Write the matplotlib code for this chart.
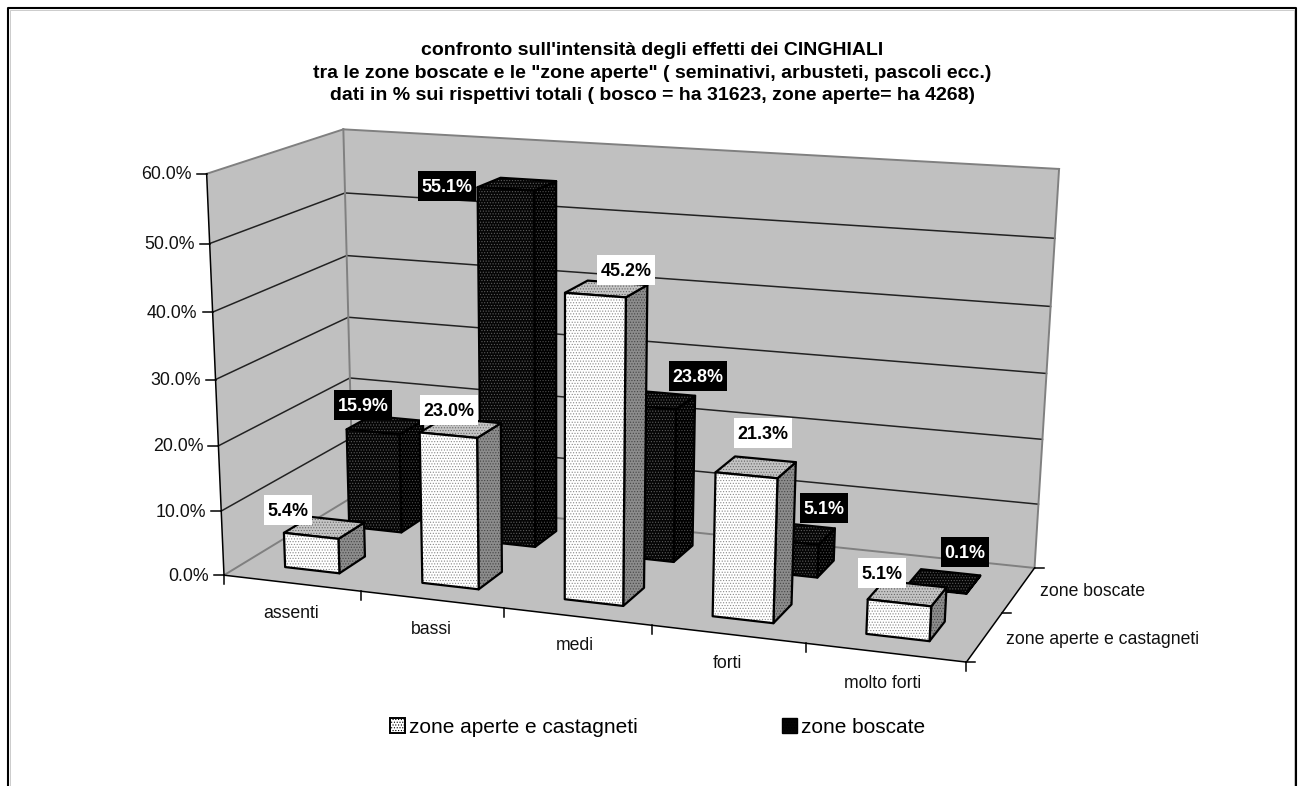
import numpy as np
import matplotlib
matplotlib.use('Agg')
import matplotlib.pyplot as plt
from matplotlib.patches import Polygon, Patch, Rectangle

# dati
categorie = ['assenti', 'bassi', 'medi', 'forti', 'molto forti']
serie = ['zone aperte e castagneti', 'zone boscate']
aperte = [5.4, 23.0, 45.2, 21.3, 5.1]
boscate = [15.9, 55.1, 23.8, 5.1, 0.1]
tick_y = [0, 10, 20, 30, 40, 50, 60]
titolo = ("confronto sull'intensità degli effetti dei CINGHIALI\n"
          "tra le zone boscate e le \"zone aperte\" ( seminativi, arbusteti, pascoli ecc.)\n"
          "dati in % sui rispettivi totali ( bosco = ha 31623, zone aperte= ha 4268)")

plt.rcParams['font.family'] = ['Liberation Sans', 'DejaVu Sans']
plt.rcParams['hatch.linewidth'] = 0.5

W, H = 1305, 786
fig = plt.figure(figsize=(W / 100, H / 100), dpi=100)
ax = fig.add_axes([0, 0, 1, 1])
ax.set_xlim(0, W)
ax.set_ylim(H, 0)
ax.axis('off')

# proiezione prospettica: (categoria, profondita, valore) -> pixel, stimata dagli spigoli del grafico
rif_3d = [(0, 0, 0), (5, 0, 0), (5, 2, 0), (0, 2, 0), (0, 0, 60), (0, 2, 60), (5, 2, 60)]
rif_px = [(225, 576), (966, 662), (1035, 568), (352, 496), (206, 173), (344, 130), (1059, 169)]
A = []
for (u, v, z), (px, py) in zip(rif_3d, rif_px):
    A.append([u, v, z, 1, 0, 0, 0, 0, -px * u, -px * v, -px * z, -px])
    A.append([0, 0, 0, 0, u, v, z, 1, -py * u, -py * v, -py * z, -py])
P = np.linalg.svd(np.array(A, float))[2][-1].reshape(3, 4)


def proj(u, v, z):
    x, y, w = P @ np.array([u, v, z, 1.0])
    return x / w, y / w


def faccia(pts, fc, hc, hatch='......', edge='black', lw=1.6, z=3):
    xy = [proj(*p) for p in pts]
    ax.add_patch(Polygon(xy, closed=True, facecolor=fc, edgecolor=hc, hatch=hatch, lw=0, zorder=z))
    ax.add_patch(Polygon(xy, closed=True, fill=False, edgecolor=edge, lw=lw, joinstyle='round', zorder=z))


def barra(i, s, val, col):
    u0, u1 = i + 0.3, i + 0.7
    v0, v1 = s + 0.3, s + 0.7
    top = [(u0, v0, val), (u1, v0, val), (u1, v1, val), (u0, v1, val)]
    lato = [(u1, v0, 0), (u1, v1, 0), (u1, v1, val), (u1, v0, val)]
    fronte = [(u0, v0, 0), (u1, v0, 0), (u1, v0, val), (u0, v0, val)]
    z = 3 + (1 - s)
    faccia(lato, col['lato'], col['lato_h'], z=z)
    faccia(top, col['top'], col['top_h'], z=z)
    faccia(fronte, col['fronte'], col['fronte_h'], z=z)


# pareti e pavimento
grigio = '#c0c0c0'
muro = '#808080'
ax.add_patch(Polygon([proj(0, 0, 0), proj(0, 2, 0), proj(0, 2, 60), proj(0, 0, 60)], fc=grigio, ec='none', zorder=1))
ax.add_patch(Polygon([proj(0, 2, 0), proj(5, 2, 0), proj(5, 2, 60), proj(0, 2, 60)], fc=grigio, ec='none', zorder=1))
ax.add_patch(Polygon([proj(0, 0, 0), proj(5, 0, 0), proj(5, 2, 0), proj(0, 2, 0)], fc=grigio, ec='none', zorder=1))

for t in tick_y[1:-1]:
    ax.plot(*zip(proj(0, 0, t), proj(0, 2, t), proj(5, 2, t)), color='#222222', lw=1.1, zorder=2)
# bordi grigi delle pareti
for a, b in [((0, 0, 60), (0, 2, 60)), ((0, 2, 60), (5, 2, 60)), ((5, 2, 60), (5, 2, 0)),
             ((0, 2, 60), (0, 2, 0)), ((0, 2, 0), (5, 2, 0)), ((0, 0, 0), (0, 2, 0))]:
    ax.plot(*zip(proj(*a), proj(*b)), color=muro, lw=1.4, zorder=2)

# assi
ax.plot(*zip(proj(0, 0, 0), proj(0, 0, 60)), color='black', lw=1.1, zorder=2)
ax.plot(*zip(proj(0, 0, 0), proj(5, 0, 0), proj(5, 2, 0)), color='black', lw=1.1, zorder=2)
for t in tick_y:
    x, y = proj(0, 0, t)
    ax.plot([x - 10, x], [y, y], color='black', lw=1.1, zorder=2)
    ax.text(x - 15, y + 1, f'{t:.1f}%', ha='right', va='center', fontsize=12.8, color='#111111')
for i in range(6):
    x, y = proj(i, 0, 0)
    ax.plot([x, x], [y, y + 9], color='black', lw=1.1, zorder=2)
for s in range(3):
    x, y = proj(5, s, 0)
    ax.plot([x, x + 9], [y, y], color='black', lw=1.1, zorder=2)

cat_pos = [(291, 613), (431, 630), (575, 646), (727, 663), (883, 684)]
for nome, (x, y) in zip(categorie, cat_pos):
    ax.text(x, y, nome, ha='center', va='center', fontsize=12.7, color='#111111')
ax.text(1040, 592, serie[1], ha='left', va='center', fontsize=12.7, color='#111111')
ax.text(1006, 639, serie[0], ha='left', va='center', fontsize=12.7, color='#111111')

# barre
col_bianco = dict(fronte='white', fronte_h='#888888', top='#c4c4c4', top_h='#666666', lato='#8c8c8c', lato_h='#444444')
col_nero = dict(fronte='#050505', fronte_h='#5c5c5c', top='#050505', top_h='#5c5c5c', lato='#000000', lato_h='#4c4c4c')
for i, v in enumerate(boscate):
    barra(i, 1, v, col_nero)
for i, v in enumerate(aperte):
    barra(i, 0, v, col_bianco)

# etichette dati
pos_aperte = [(288, 510), (449, 410), (626, 270), (763, 433), (882, 573)]
pos_boscate = [(363, 405), (447, 186), (698, 376), (824, 508), (965, 552)]
renderer = fig.canvas.get_renderer()


def etichetta(v, x, y, fg, bg):
    t = ax.text(x, y + 1.5, f'{v:.1f}%', ha='center', va='center', fontsize=12.9, fontweight='bold', color=fg, zorder=10)
    larg = t.get_window_extent(renderer).width + 7
    ax.add_patch(Rectangle((x - larg / 2, y - 15), larg, 30, fc=bg, ec='none', zorder=9))


for v, (x, y) in zip(aperte, pos_aperte):
    etichetta(v, x, y, 'black', 'white')
for v, (x, y) in zip(boscate, pos_boscate):
    etichetta(v, x, y, 'white', 'black')

# titolo
ax.text(652, 73, titolo, ha='center', va='center', fontsize=14, fontweight='bold', linespacing=1.45)

# legenda
manico = [Patch(fc='white', ec='black', hatch='......', lw=1.4), Patch(fc='#050505', ec='black', hatch='......', lw=1)]
ax.legend(manico, serie, loc='center', bbox_to_anchor=(657.5 / W, 1 - 727.5 / H), ncol=2, frameon=False,
          fontsize=15, columnspacing=6.9, handlelength=0.72, handleheight=0.72, handletextpad=0.2, borderpad=0)

# cornice esterna
ax.plot([8, 8, 1296, 1296], [786, 8, 8, 786], color='black', lw=1.5, zorder=20)
ax.plot([10, 10, 1294, 1294], [786, 10, 10, 786], color='#cccccc', lw=0.7, zorder=19)

fig.savefig('out.png', dpi=100)
